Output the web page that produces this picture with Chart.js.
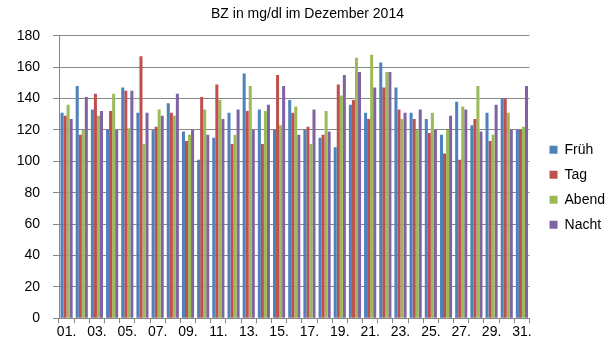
<!DOCTYPE html>
<html>
<head>
<meta charset="utf-8">
<script src="https://cdn.jsdelivr.net/npm/chart.js@4"></script>
<style>
  html, body { margin: 0; padding: 0; background: #fff; }
  #wrap { width: 610px; height: 349px; }
</style>
</head>
<body>
<div id="wrap"><canvas id="bzChart"></canvas></div>
<script>
// Tage im Dezember 2014
var tage = ['01.', '02.', '03.', '04.', '05.', '06.', '07.', '08.', '09.', '10.',
  '11.', '12.', '13.', '14.', '15.', '16.', '17.', '18.', '19.', '20.',
  '21.', '22.', '23.', '24.', '25.', '26.', '27.', '28.', '29.', '30.', '31.'];

// BZ-Werte in mg/dl
var frueh = [131, 148, 133, 120, 147, 131, 120, 137, 119, 101, 115, 131, 156, 133, 120, 139,
  120, 115, 109, 136, 131, 163, 147, 131, 127, 117, 138, 123, 131, 140, 120];
var tag = [129, 117, 143, 132, 145, 167, 122, 131, 113, 141, 149, 111, 132, 111, 155, 131,
  122, 117, 149, 139, 127, 147, 133, 127, 118, 105, 101, 127, 113, 140, 120];
var abend = [136, 120, 129, 143, 121, 111, 133, 129, 117, 133, 139, 117, 148, 132, 123, 135,
  111, 132, 142, 166, 168, 157, 127, 120, 131, 120, 135, 148, 117, 131, 122];
var nacht = [127, 141, 132, 120, 145, 131, 129, 143, 120, 117, 127, 133, 120, 136, 148, 117,
  133, 119, 155, 157, 147, 157, 131, 133, 120, 129, 133, 119, 136, 120, 148];

var yTicks = [0, 20, 40, 60, 80, 100, 120, 140, 160, 180];

var schrift = '"Liberation Sans", Arial, sans-serif';
var grau = '#868686';

var ctx = document.getElementById('bzChart').getContext('2d');

var bzChart = new Chart(ctx, {
	type: 'bar',
	data: {
		labels: tage,
		datasets: [
			{ label: 'Früh', backgroundColor: '#4F81BD', data: frueh },
			{ label: 'Tag', backgroundColor: '#C0504D', data: tag },
			{ label: 'Abend', backgroundColor: '#9BBB59', data: abend },
			{ label: 'Nacht', backgroundColor: '#8064A2', data: nacht }
		]
	},
	options: {
		responsive: true,
		maintainAspectRatio: false,
		animation: false,
		layout: {
			padding: { left: 0, right: -5, top: 0, bottom: 7 }
		},
		datasets: {
			bar: { categoryPercentage: 0.8, barPercentage: 1.0, borderWidth: 0 }
		},
		plugins: {
			title: {
				display: true,
				text: 'BZ in mg/dl im Dezember 2014',
				color: '#000',
				font: { family: schrift, size: 14, weight: 'normal' },
				padding: { top: 6, bottom: 13 }
			},
			legend: {
				position: 'right',
				labels: {
					color: '#000',
					font: { family: schrift, size: 14 },
					boxWidth: 8,
					boxHeight: 8,
					padding: 11
				},
				// leerer Titel schiebt die Einträge etwas nach unten
				title: {
					display: true,
					text: ' ',
					font: { size: 2 },
					padding: { top: 30, bottom: 0 }
				}
			},
			tooltip: { enabled: false }
		},
		scales: {
			x: {
				offset: true,
				grid: {
					offset: true,
					drawOnChartArea: false,
					drawTicks: true,
					tickLength: 5,
					color: grau
				},
				border: { color: grau },
				ticks: {
					color: '#000',
					font: { family: schrift, size: 14 },
					autoSkip: false,
					maxRotation: 0,
					padding: 1,
					callback: function (val, i) {
						return i % 2 === 0 ? this.getLabelForValue(val) : '';
					}
				}
			},
			y: {
				min: 0,
				max: 180,
				afterFit: function (scale) { scale.width = 59; },
				afterBuildTicks: function (scale) {
					scale.ticks = yTicks.map(function (v) { return { value: v }; });
				},
				grid: { color: grau, tickLength: 6 },
				border: { color: grau },
				ticks: {
					color: '#000',
					font: { family: schrift, size: 14 },
					padding: 13
				}
			},
			rand: {
				type: 'linear',
				position: 'right',
				display: true,
				afterFit: function (scale) { scale.width = 9; },
				grid: { display: false },
				border: { display: false },
				ticks: { display: false }
			}
		}
	}
});
</script>
</body>
</html>
